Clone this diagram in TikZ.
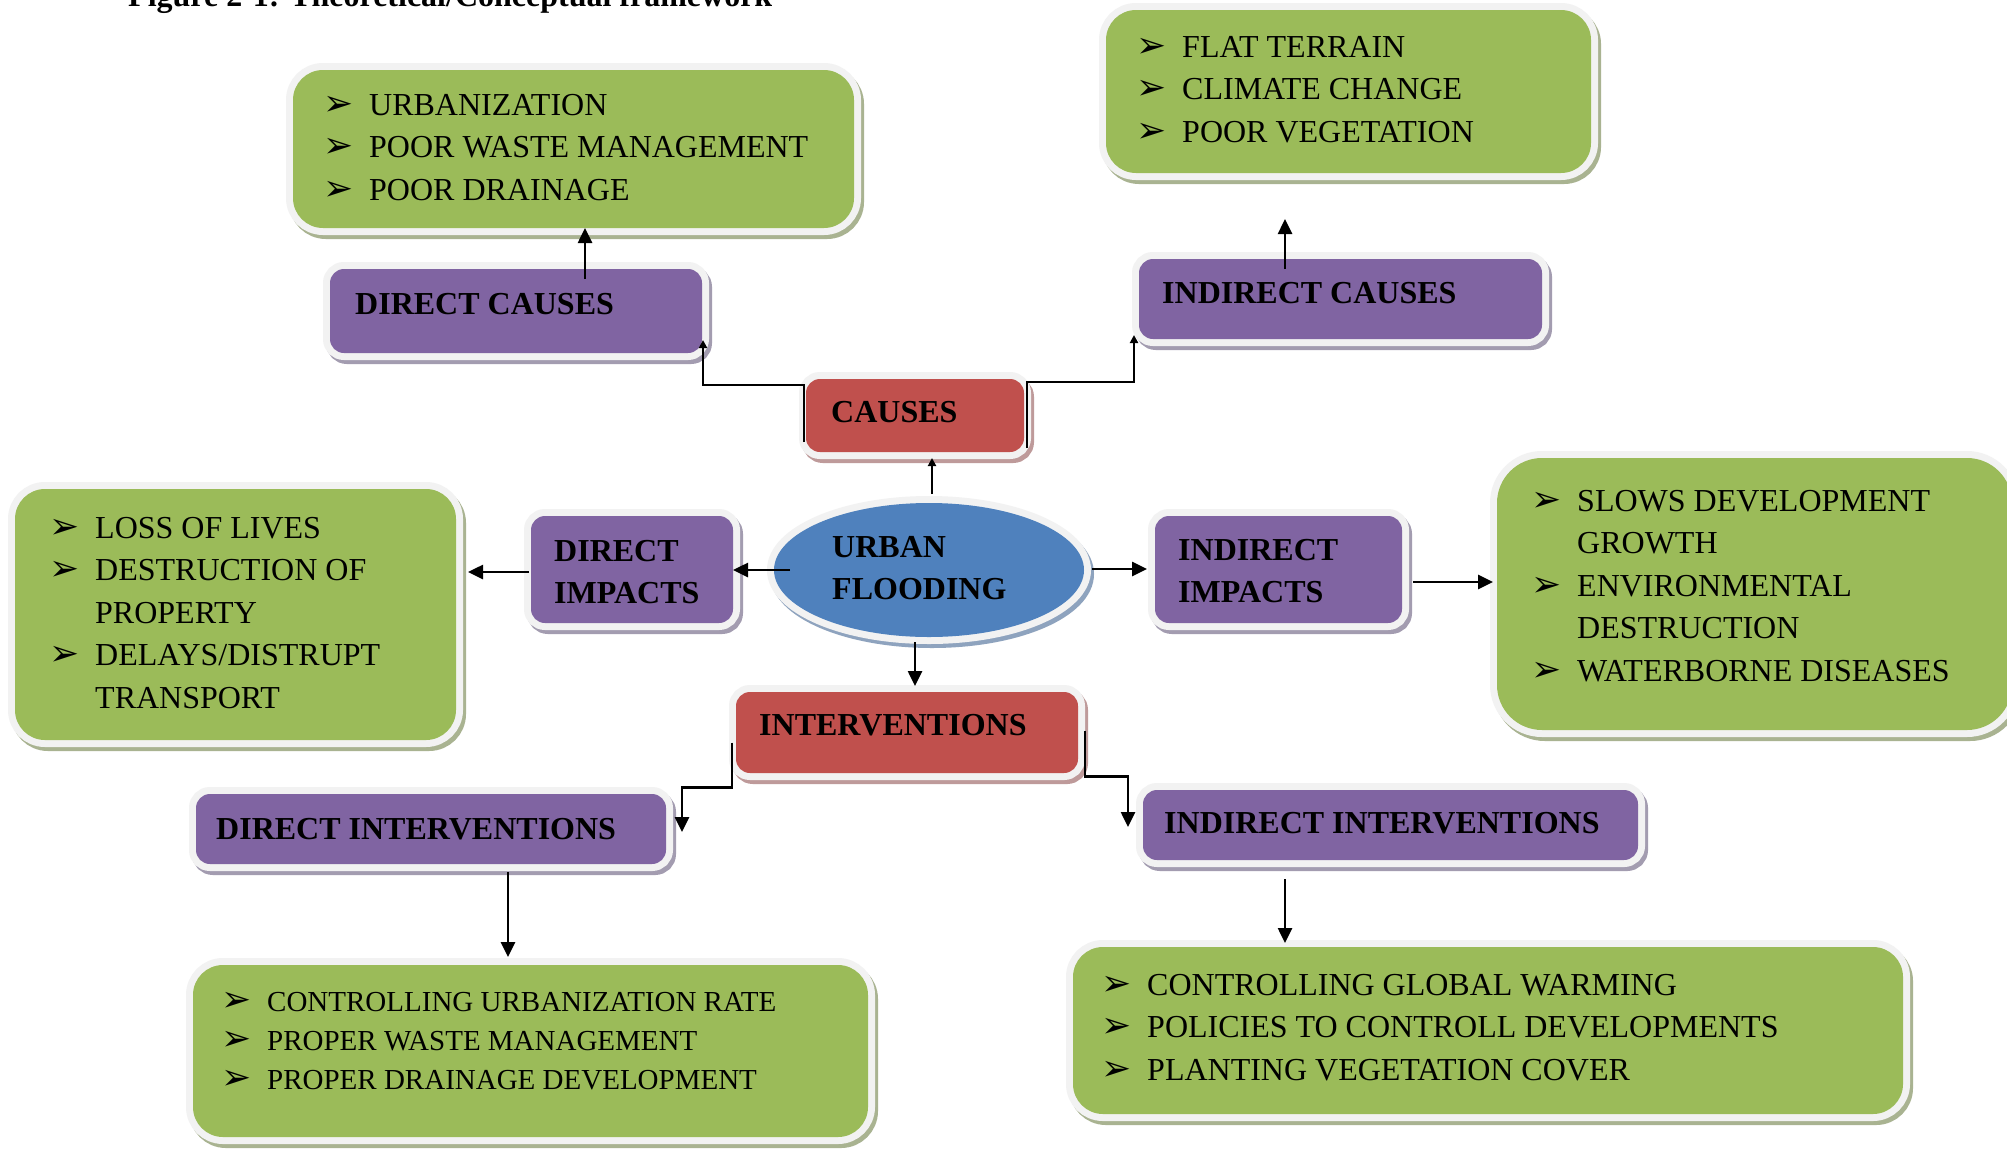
\documentclass[tikz,border=0pt]{standalone}
\usepackage{fontspec}
\setmainfont{Liberation Serif}
\newfontfamily\dingfont{DejaVu Sans}
\usetikzlibrary{arrows.meta,calc,shapes.geometric}

\definecolor{leafgreen}{HTML}{9BBB59}
\definecolor{leafshadow}{HTML}{A9B391}
\definecolor{plum}{HTML}{8064A2}
\definecolor{plumshadow}{HTML}{A39CB0}
\definecolor{brick}{HTML}{C0504D}
\definecolor{brickshadow}{HTML}{BE9A9A}
\definecolor{sky}{HTML}{4F81BD}
\definecolor{skyshadow}{HTML}{8EA3BE}
\definecolor{rim}{HTML}{F2F2F2}

% arrowhead bullet and the matching indent for wrapped lines
\newcommand\bul{\makebox[46pt][l]{\dingfont\fontsize{36}{36}\selectfont\char"27A2}}
\newcommand\nobul{\hspace*{46pt}}

\tikzset{
  panel/.style 2 args={rectangle, rounded corners=#1, outer sep=0pt, inner sep=0pt,
    preaction={fill=#2, draw=#2, line width=14pt,
      transform canvas={shift={(3pt,-4pt)}}},
    preaction={draw=rim, line width=14pt}},
  greenbox/.style={panel={30pt}{leafshadow}, fill=leafgreen},
  purplebox/.style={panel={14pt}{plumshadow}, fill=plum},
  redbox/.style={panel={14pt}{brickshadow}, fill=brick},
  hubshape/.style={ellipse, outer sep=0pt, inner sep=0pt, fill=sky,
    preaction={fill=skyshadow, draw=skyshadow, line width=14pt,
      transform canvas={shift={(3pt,-4pt)}}},
    preaction={draw=rim, line width=14pt}},
  listtext/.style={anchor=base west, inner sep=0pt,
    font=\fontsize{32}{42.5}\selectfont},
  smalllist/.style={anchor=base west, inner sep=0pt,
    font=\fontsize{29}{39}\selectfont},
  headtext/.style={anchor=base west, inner sep=0pt,
    font=\bfseries\fontsize{32}{42.5}\selectfont},
  conn/.style={draw=black, line width=2.6pt,
    -{Triangle[length=15pt,width=14pt]}},
  smallconn/.style={draw=black, line width=2.6pt,
    -{Triangle[length=8pt,width=8pt]}},
}

\begin{document}
\begin{tikzpicture}[x=1pt,y=-1pt]
\useasboundingbox (0,0) rectangle (2007,1149);
\fill[white] (0,0) rectangle (2007,1149);

% caption, partly above the page edge
\node[anchor=base west, inner sep=0pt, font=\bfseries\fontsize{32}{32}\selectfont]
  (caption) at (128,6) {Figure 2-1: Theoretical/Conceptual framework};

% ---------- boxes ----------
\node[greenbox, minimum width=561pt, minimum height=158pt] (gtl) at (573.5,149) {};
\node[greenbox, minimum width=485pt, minimum height=163pt] (gtr) at (1348.5,91.5) {};
\node[purplebox, minimum width=372pt, minimum height=84pt] (dc) at (516,311) {};
\node[redbox, minimum width=218pt, minimum height=73pt] (causes) at (915,415.5) {};
\node[purplebox, minimum width=403pt, minimum height=80pt] (ic) at (1340.5,299) {};
\node[hubshape, minimum width=310pt, minimum height=134pt] (flood) at (929,570) {};
\node[purplebox, minimum width=202pt, minimum height=107pt] (di) at (632,569.5) {};
\node[purplebox, minimum width=247pt, minimum height=107pt] (ii) at (1278.5,569.5) {};
\node[greenbox, minimum width=441pt, minimum height=251pt] (gleft) at (235.5,614.5) {};
\node[panel={45pt}{leafshadow}, fill=leafgreen, minimum width=515pt, minimum height=272pt]
  (gright) at (1754.5,594) {};
\node[redbox, minimum width=342pt, minimum height=81pt] (interv) at (907,732.5) {};
\node[purplebox, minimum width=470pt, minimum height=70pt] (dint) at (431,829) {};
\node[purplebox, minimum width=495pt, minimum height=70pt] (iint) at (1390.5,825) {};
\node[greenbox, minimum width=675pt, minimum height=172pt] (gbl) at (530.5,1051) {};
\node[greenbox, minimum width=830pt, minimum height=167pt] (gbr) at (1488,1030.5) {};

% ---------- headings ----------
\node[headtext] (tdc) at (355,314) {DIRECT CAUSES};
\node[headtext] (tcauses) at (831,422) {CAUSES};
\node[headtext] (tic) at (1162,303) {INDIRECT CAUSES};
\node[headtext] (tflood) at (832,557)
  {\begin{tabular}[t]{@{}l@{}}URBAN\\FLOODING\end{tabular}};
\node[headtext] (tdi) at (554,561)
  {\begin{tabular}[t]{@{}l@{}}DIRECT\\IMPACTS\end{tabular}};
\node[headtext] (tii) at (1178,560)
  {\begin{tabular}[t]{@{}l@{}}INDIRECT\\IMPACTS\end{tabular}};
\node[headtext] (tinterv) at (759,735) {INTERVENTIONS};
\node[headtext] (tdint) at (216,839) {DIRECT INTERVENTIONS};
\node[headtext] (tiint) at (1164,833) {INDIRECT INTERVENTIONS};

% ---------- lists ----------
\node[listtext] (lgtl) at (323,115) {\begin{tabular}[t]{@{}l@{}}
  \bul URBANIZATION\\
  \bul POOR WASTE MANAGEMENT\\
  \bul POOR DRAINAGE\end{tabular}};
\node[listtext] (lgtr) at (1136,57) {\begin{tabular}[t]{@{}l@{}}
  \bul FLAT TERRAIN\\
  \bul CLIMATE CHANGE\\
  \bul POOR VEGETATION\end{tabular}};
\node[listtext] (lgleft) at (49,538) {\begin{tabular}[t]{@{}l@{}}
  \bul LOSS OF LIVES\\
  \bul DESTRUCTION OF\\
  \nobul PROPERTY\\
  \bul DELAYS/DISTRUPT\\
  \nobul TRANSPORT\end{tabular}};
\node[listtext] (lgright) at (1531,511) {\begin{tabular}[t]{@{}l@{}}
  \bul SLOWS DEVELOPMENT\\
  \nobul GROWTH\\
  \bul ENVIRONMENTAL\\
  \nobul DESTRUCTION\\
  \bul WATERBORNE DISEASES\end{tabular}};
\node[smalllist] (lgbl) at (221,1011) {\begin{tabular}[t]{@{}l@{}}
  \bul CONTROLLING URBANIZATION RATE\\
  \bul PROPER WASTE MANAGEMENT\\
  \bul PROPER DRAINAGE DEVELOPMENT\end{tabular}};
\node[listtext] (lgbr) at (1101,995) {\begin{tabular}[t]{@{}l@{}}
  \bul CONTROLLING GLOBAL WARMING\\
  \bul POLICIES TO CONTROLL DEVELOPMENTS\\
  \bul PLANTING VEGETATION COVER\end{tabular}};

% ---------- connector end points ----------
\coordinate (a1) at ($(dc.north west)+(255,10)$);
\coordinate (b1) at ($(causes.south west)+(-2,-10)$);
\coordinate (b2) at ($(dc.south east)+(1,-13)$);
\coordinate (c1) at ($(causes.south east)+(3,-4)$);
\coordinate (c2) at ($(ic.south west)+(-5,-4)$);
\coordinate (d1) at ($(ic.north west)+(146,10)$);
\coordinate (d2) at ($(gtr.south west)+(179,46)$);
\coordinate (e1) at ($(flood.north)+(3,-9)$);
\coordinate (e2) at ($(causes.south)+(17,6)$);
\coordinate (f1) at ($(flood.west)+(16,0)$);
\coordinate (g1) at ($(di.west)+(-2,2.5)$);
\coordinate (g2) at ($(gleft.east)+(12,-42.5)$);
\coordinate (h1) at ($(flood.east)+(8,-1)$);
\coordinate (h2) at ($(ii.west)+(-8,-0.5)$);
\coordinate (i1) at ($(ii.east)+(11,12.5)$);
\coordinate (i2) at ($(gright.west)+(-4,-12)$);
\coordinate (j1) at ($(flood.south)+(-14,5)$);
\coordinate (j2) at ($(interv.north)+(8,-6)$);
\coordinate (k1) at ($(interv.west)+(-4,10)$);
\coordinate (k2) at ($(dint.north east)+(16,38)$);
\coordinate (l1) at ($(interv.east)+(7,-2)$);
\coordinate (l2) at ($(iint.north west)+(-15,37)$);
\coordinate (m1) at ($(dint.south)+(77,8)$);
\coordinate (m2) at ($(gbl.north)+(-22.5,-8)$);
\coordinate (n1) at ($(iint.south)+(-105.5,19)$);
\coordinate (n2) at ($(gbr.north)+(-203,-4)$);

% ---------- connectors ----------
\draw[conn] (a1) -- (a1 |- gtl.south);
\draw[smallconn] (b1) -- ++(0,-57) -| (b2);
\draw[smallconn] (c1) -- ++(0,-66) -| (c2);
\draw[conn] (d1) -- (d2);
\draw[smallconn] (e1) -- (e2);
\draw[conn] (f1) -- (f1 -| di.east);
\draw[conn] (g1) -- (g2);
\draw[conn] (h1) -- (h2);
\draw[conn] (i1) -- (i2);
\draw[conn] (j1) -- (j2);
\draw[conn] (k1) -- ++(0,45) -| (k2);
\draw[conn] (l1) -- ++(0,46) -| (l2);
\draw[conn] (m1) -- (m2);
\draw[conn] (n1) -- (n2);
\end{tikzpicture}
\end{document}
